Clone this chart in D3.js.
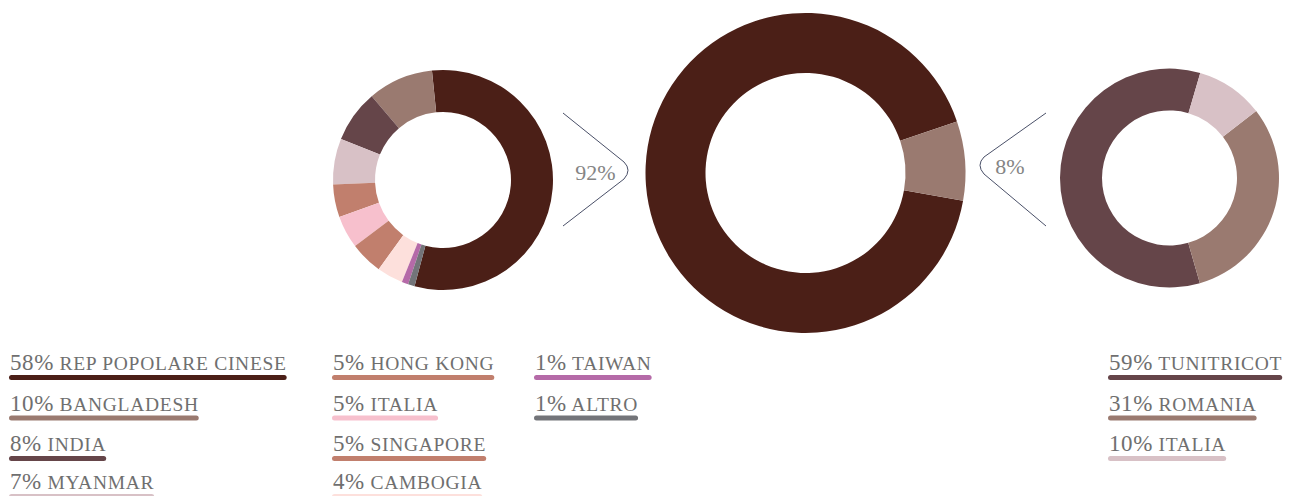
<!DOCTYPE html>
<html>
<head>
<meta charset="utf-8">
<script src="https://cdn.jsdelivr.net/npm/d3@7"></script>
<style>
  html, body { margin: 0; padding: 0; background: #fff; }
  svg { display: block; }
  .lbl { font-family: "Liberation Serif", "Times New Roman", serif; fill: #6f6f6f; }
</style>
</head>
<body>
<svg id="chart" width="1292" height="496"></svg>
<script>
// Country of origin breakdown (left), overall split (centre), second group (right)
const leftNames  = ["REP POPOLARE CINESE", "BANGLADESH", "INDIA", "MYANMAR", "HONG KONG", "ITALIA", "SINGAPORE", "CAMBOGIA", "TAIWAN", "ALTRO"];
const leftValues = [58, 10, 8, 7, 5, 5, 5, 4, 1, 1];
const leftColors = ["#4b1f17", "#9a7a70", "#654549", "#d8c1c6", "#c17f6d", "#f7c0cd", "#c17f6d", "#fde0dc", "#b56aa8", "#737479"];

const midValues = [92, 8];
const midLabels = ["92%", "8%"];
const midColors = ["#4b1f17", "#9a7a70"];

const rightNames  = ["TUNITRICOT", "ROMANIA", "ITALIA"];
const rightValues = [59, 31, 10];
const rightColors = ["#654549", "#9a7a70", "#d8c1c6"];

const svg = d3.select("#chart");
const deg = Math.PI / 180;

// Donut helper: slices run counter-clockwise from the given start angle
function donut(values, colors, cx, cy, rOuter, rInner, startDeg) {
  const pie = d3.pie().sort(null).value(d => d)
    .startAngle(startDeg * deg)
    .endAngle((startDeg - 360) * deg);
  const arc = d3.arc().innerRadius(rInner).outerRadius(rOuter);
  svg.append("g")
    .attr("transform", `translate(${cx},${cy})`)
    .selectAll("path")
    .data(pie(values))
    .join("path")
    .attr("d", arc)
    .attr("fill", (d, i) => colors[i]);
}

donut(leftValues, leftColors, 443, 180, 110, 68, 195);
donut(midValues, midColors, 805.5, 173, 160, 100, 431.2);
donut(rightValues, rightColors, 1169.5, 178, 109.5, 67.5, 376.3);

// Connector chevrons with the share labels
svg.append("path")
  .attr("d", "M563,113 L624,162 Q632,170 624,179 L563,226")
  .attr("fill", "none").attr("stroke", "#4a5068").attr("stroke-width", 1);
svg.append("path")
  .attr("d", "M1046,113 L984,157 Q976,165 984,174 L1046,226")
  .attr("fill", "none").attr("stroke", "#4a5068").attr("stroke-width", 1);

svg.append("text").attr("class", "lbl")
  .attr("x", 595.5).attr("y", 180).attr("text-anchor", "middle")
  .style("font-size", "22px").style("fill", "#858585")
  .text(midLabels[0]);
svg.append("text").attr("class", "lbl")
  .attr("x", 1010).attr("y", 174).attr("text-anchor", "middle")
  .style("font-size", "22px").style("fill", "#858585")
  .text(midLabels[1]);

// Legend entries: percentage + name, underlined with the slice colour
function legendItem(x, y, value, name, color) {
  const t = svg.append("text").attr("class", "lbl")
    .attr("x", x).attr("y", y);
  t.append("tspan").style("font-size", "23px").style("letter-spacing", "0.6px").text(value + "%");
  t.append("tspan").style("font-size", "19.5px").style("letter-spacing", "0.7px").text(" " + name);
  const bb = t.node().getBBox();
  svg.append("rect")
    .attr("x", x - 1).attr("y", y + 5)
    .attr("width", bb.width + 1).attr("height", 5)
    .attr("rx", 2.5)
    .attr("fill", color);
}

const rowY = [370, 410.5, 451, 489];
const colX = [10, 333, 535];
leftValues.forEach((v, i) => {
  const col = Math.floor(i / 4), row = i % 4;
  legendItem(colX[col], rowY[row], v, leftNames[i], leftColors[i]);
});
rightValues.forEach((v, i) => {
  legendItem(1109, rowY[i], v, rightNames[i], rightColors[i]);
});
</script>
</body>
</html>
